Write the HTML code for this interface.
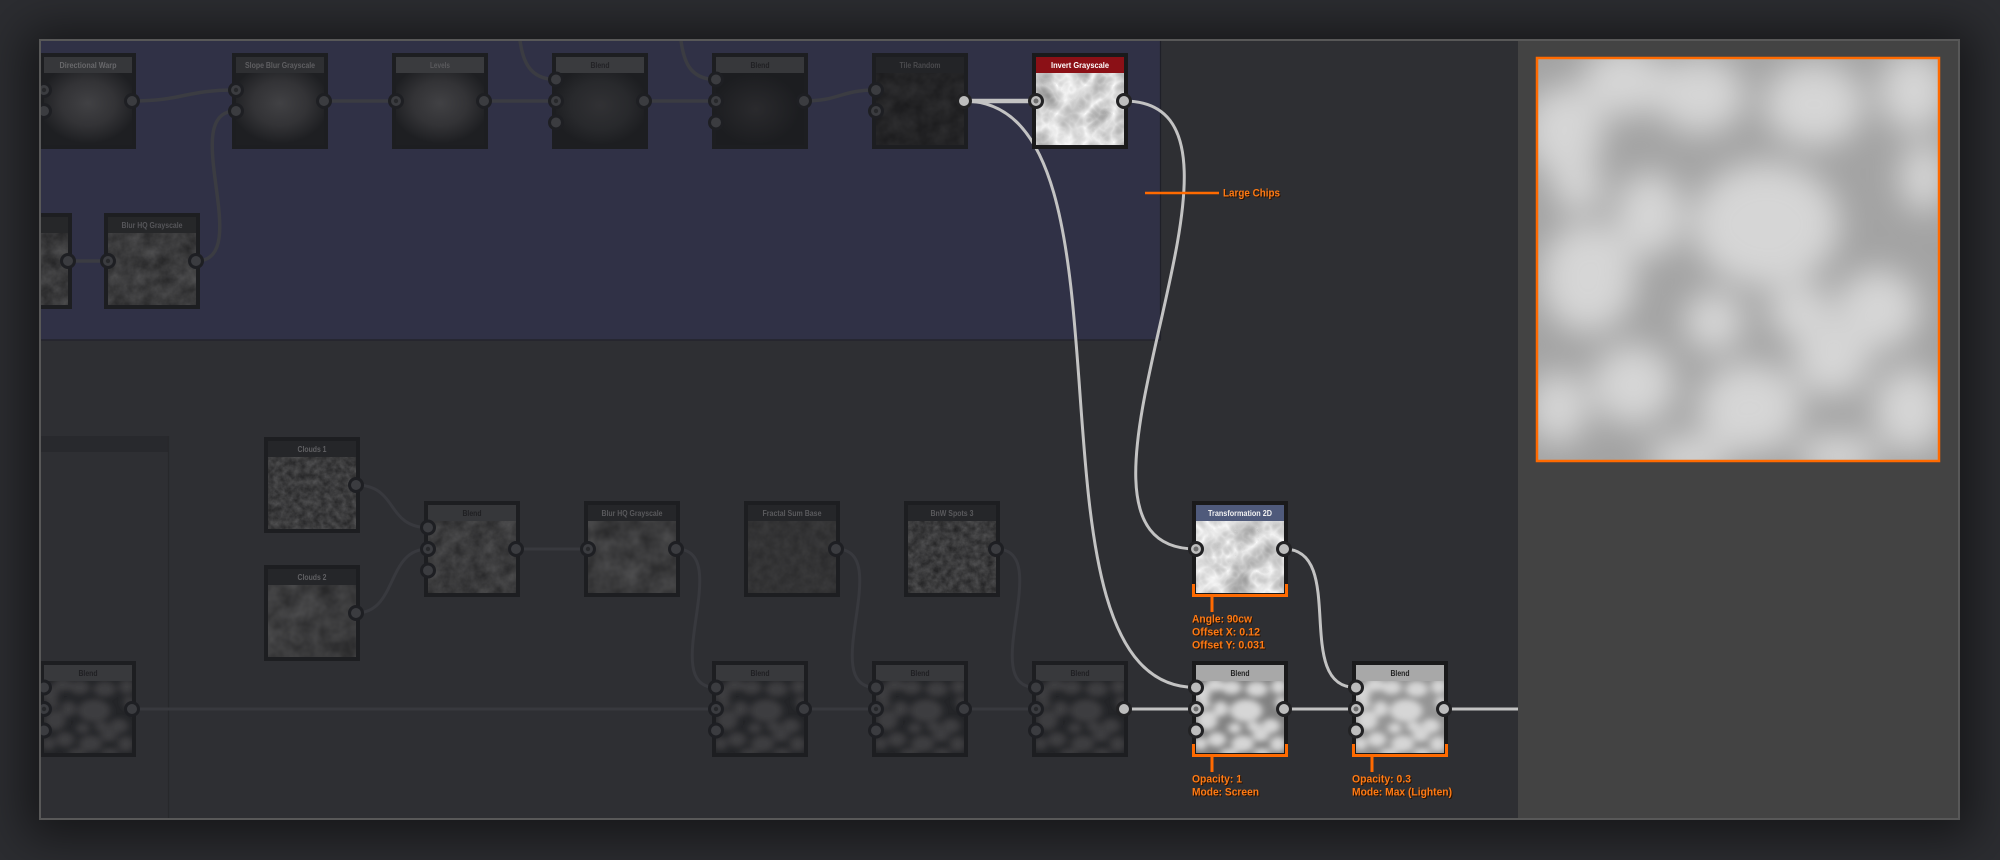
<!DOCTYPE html>
<html>
<head>
<meta charset="utf-8">
<style>
html,body{margin:0;padding:0;}
body{width:2000px;height:860px;overflow:hidden;background:#2c2d31;position:relative;}
#frame{position:absolute;left:39px;top:39px;width:1917px;height:777px;border:2px solid #585858;box-shadow:0 4px 45px 14px rgba(0,0,0,0.5);background:#2e2f33;}
svg text{font-family:"Liberation Sans",sans-serif;}
</style>
</head>
<body>
<div id="frame"></div>
<svg width="2000" height="860" viewBox="0 0 2000 860" style="position:absolute;left:0;top:0" xmlns="http://www.w3.org/2000/svg">
<defs>
  <clipPath id="canvasClip"><rect x="41" y="41" width="1477" height="777"/></clipPath>
  <filter id="blurC" x="-20%" y="-20%" width="140%" height="140%"><feGaussianBlur stdDeviation="16"/></filter>
  <filter id="nz" x="0" y="0" width="1" height="1" color-interpolation-filters="sRGB">
    <feTurbulence type="fractalNoise" baseFrequency="0.07" numOctaves="4" seed="2"/>
    <feColorMatrix type="matrix" values="0.2 0 0 0 0.13  0.2 0 0 0 0.13  0.2 0 0 0 0.135  0 0 0 0 1"/>
  </filter>
  <filter id="nzFine" x="0" y="0" width="1" height="1" color-interpolation-filters="sRGB">
    <feTurbulence type="fractalNoise" baseFrequency="0.15" numOctaves="4" seed="5"/>
    <feColorMatrix type="matrix" values="0.22 0 0 0 0.12  0.22 0 0 0 0.12  0.22 0 0 0 0.125  0 0 0 0 1"/>
  </filter>
  <filter id="nzSoft" x="0" y="0" width="1" height="1" color-interpolation-filters="sRGB">
    <feTurbulence type="fractalNoise" baseFrequency="0.05" numOctaves="3" seed="9"/>
    <feColorMatrix type="matrix" values="0.2 0 0 0 0.135  0.2 0 0 0 0.135  0.2 0 0 0 0.14  0 0 0 0 1"/>
  </filter>
  <filter id="nzFlat" x="0" y="0" width="1" height="1" color-interpolation-filters="sRGB">
    <feTurbulence type="fractalNoise" baseFrequency="0.1" numOctaves="3" seed="4"/>
    <feColorMatrix type="matrix" values="0.08 0 0 0 0.16  0.08 0 0 0 0.16  0.08 0 0 0 0.165  0 0 0 0 1"/>
  </filter>
  <filter id="nzTile" x="0" y="0" width="1" height="1" color-interpolation-filters="sRGB">
    <feTurbulence type="fractalNoise" baseFrequency="0.06" numOctaves="3" seed="11"/>
    <feColorMatrix type="matrix" values="0.1 0 0 0 0.09  0.1 0 0 0 0.09  0.1 0 0 0 0.097  0 0 0 0 1"/>
  </filter>
  <filter id="crumple" x="0" y="0" width="1" height="1" color-interpolation-filters="sRGB">
    <feTurbulence type="turbulence" baseFrequency="0.035" numOctaves="3" seed="7"/>
    <feColorMatrix type="matrix" values="-0.5 0 0 0 0.98  -0.5 0 0 0 0.98  -0.5 0 0 0 0.98  0 0 0 0 1"/>
  </filter>
  <filter id="crumple2" x="0" y="0" width="1" height="1" color-interpolation-filters="sRGB">
    <feTurbulence type="turbulence" baseFrequency="0.035" numOctaves="3" seed="21"/>
    <feColorMatrix type="matrix" values="-0.5 0 0 0 0.98  -0.5 0 0 0 0.98  -0.5 0 0 0 0.98  0 0 0 0 1"/>
  </filter>
  <radialGradient id="blobA" cx="0.5" cy="0.42" r="0.56">
    <stop offset="0" stop-color="#414144"/><stop offset="0.55" stop-color="#333336"/><stop offset="1" stop-color="#1e1f22"/>
  </radialGradient>
  <radialGradient id="blobB" cx="0.5" cy="0.45" r="0.55">
    <stop offset="0" stop-color="#313134"/><stop offset="0.6" stop-color="#28292c"/><stop offset="1" stop-color="#1d1e21"/>
  </radialGradient>
  <radialGradient id="blobC" cx="0.45" cy="0.5" r="0.5">
    <stop offset="0" stop-color="#2a2a2d"/><stop offset="1" stop-color="#1c1d20"/>
  </radialGradient>
  <g id="cells" filter="url(#blurC)">
    <ellipse cx="26" cy="72" rx="40" ry="45"/>
    <ellipse cx="86" cy="22" rx="42" ry="35"/>
    <ellipse cx="162" cy="36" rx="45" ry="38"/>
    <ellipse cx="276" cy="45" rx="50" ry="42"/>
    <ellipse cx="376" cy="32" rx="35" ry="40"/>
    <ellipse cx="112" cy="155" rx="34" ry="42"/>
    <ellipse cx="228" cy="165" rx="74" ry="62"/>
    <ellipse cx="50" cy="218" rx="48" ry="55"/>
    <ellipse cx="340" cy="250" rx="42" ry="40"/>
    <ellipse cx="386" cy="118" rx="24" ry="35"/>
    <ellipse cx="20" cy="348" rx="30" ry="36"/>
    <ellipse cx="95" cy="325" rx="42" ry="40"/>
    <ellipse cx="212" cy="348" rx="52" ry="45"/>
    <ellipse cx="294" cy="300" rx="38" ry="36"/>
    <ellipse cx="372" cy="350" rx="36" ry="42"/>
    <ellipse cx="176" cy="262" rx="30" ry="30"/>
    <ellipse cx="262" cy="252" rx="32" ry="28"/>
    <ellipse cx="150" cy="398" rx="40" ry="22"/>
    <ellipse cx="300" cy="396" rx="40" ry="22"/>
    <ellipse cx="40" cy="128" rx="26" ry="24"/>
  </g>
</defs>

<g clip-path="url(#canvasClip)">
  <rect x="41" y="41" width="1477" height="777" fill="#2e2f33"/>
  <rect x="41" y="41" width="1120" height="299" fill="#303146"/>
  <line x1="1160.5" y1="41" x2="1160.5" y2="340" stroke="#1f2028" stroke-width="1.2"/>
  <line x1="41" y1="340" x2="1161" y2="340" stroke="#23242c" stroke-width="1.5"/>
  <rect x="41" y="436" width="128" height="16" fill="#28292d"/>
  <line x1="168.5" y1="436" x2="168.5" y2="818" stroke="#27282b" stroke-width="1.2"/>

  <g fill="none" stroke="#3b3c42" stroke-width="3.5">
    <path d="M132,101 C184,101 184,90 236,90"/>
    <path d="M324,101 L396,101"/>
    <path d="M484,101 L556,101"/>
    <path d="M644,101 L716,101"/>
    <path d="M804,101 C840,101 840,90 876,90"/>
    <path d="M519,30 C521,62 530,79.5 556,79.5"/>
    <path d="M680,30 C682,62 690,79.5 716,79.5"/>
    <path d="M68,261 L108,261"/>
    <path d="M196,261 C256,261 176,111 236,111"/>
  </g>
  <g fill="none" stroke="#38393e" stroke-width="3">
    <path d="M356,485 C398,485 386,527.5 428,527.5"/>
    <path d="M356,613 C398,613 386,549 428,549"/>
    <path d="M516,549 L588,549"/>
    <path d="M676,549 C736,549 656,687.5 716,687.5"/>
    <path d="M836,549 C896,549 816,687.5 876,687.5"/>
    <path d="M996,549 C1056,549 976,687.5 1036,687.5"/>
    <path d="M132,709 L716,709"/>
    <path d="M804,709 L876,709"/>
    <path d="M964,709 L1036,709"/>
  </g>
  <g fill="none" stroke="#c3c3c3" stroke-width="3">
    <path d="M964,101 L1036,101" stroke-width="4.5"/>
    <path d="M964,101 C1154,101 1006,687.5 1196,687.5"/>
    <path d="M1124,101 C1298,101 1022,549 1196,549"/>
    <path d="M1284,549 C1348,549 1292,687.5 1356,687.5"/>
    <path d="M1124,709 L1196,709"/>
    <path d="M1284,709 L1356,709"/>
    <path d="M1444,709 L1522,709"/>
  </g>

  <!-- TOP ROW -->
  <rect x="40" y="53" width="96" height="96" fill="#1d1e21"/>
  <rect x="44" y="57" width="88" height="16" fill="#36373a"/>
  <rect x="44" y="73" width="88" height="72" fill="url(#blobA)"/>
  <text x="88" y="68" font-size="8" font-weight="bold" fill="#68686b" text-anchor="middle" textLength="57" lengthAdjust="spacingAndGlyphs">Directional Warp</text>
  <rect x="232" y="53" width="96" height="96" fill="#1d1e21"/>
  <rect x="236" y="57" width="88" height="16" fill="#2e2f32"/>
  <rect x="236" y="73" width="88" height="72" fill="url(#blobA)"/>
  <text x="280" y="68" font-size="8" font-weight="bold" fill="#5f5f62" text-anchor="middle" textLength="70" lengthAdjust="spacingAndGlyphs">Slope Blur Grayscale</text>
  <rect x="392" y="53" width="96" height="96" fill="#1d1e21"/>
  <rect x="396" y="57" width="88" height="16" fill="#3a3b3e"/>
  <rect x="396" y="73" width="88" height="72" fill="url(#blobA)"/>
  <text x="440" y="68" font-size="8" font-weight="bold" fill="#5a5a5d" text-anchor="middle" textLength="20" lengthAdjust="spacingAndGlyphs">Levels</text>
  <rect x="552" y="53" width="96" height="96" fill="#1d1e21"/>
  <rect x="556" y="57" width="88" height="16" fill="#3a3b3e"/>
  <rect x="556" y="73" width="88" height="72" fill="url(#blobB)"/>
  <text x="600" y="68" font-size="8" font-weight="bold" fill="#222225" text-anchor="middle" textLength="19" lengthAdjust="spacingAndGlyphs">Blend</text>
  <rect x="712" y="53" width="96" height="96" fill="#1d1e21"/>
  <rect x="716" y="57" width="88" height="16" fill="#37383b"/>
  <rect x="716" y="73" width="88" height="72" fill="url(#blobC)"/>
  <text x="760" y="68" font-size="8" font-weight="bold" fill="#202023" text-anchor="middle" textLength="19" lengthAdjust="spacingAndGlyphs">Blend</text>
  <rect x="872" y="53" width="96" height="96" fill="#1d1e21"/>
  <rect x="876" y="57" width="88" height="16" fill="#232427"/>
  <rect x="876" y="73" width="88" height="72" fill="#242528" filter="url(#nzTile)"/>
  <text x="920" y="68" font-size="8" font-weight="bold" fill="#4a4a4d" text-anchor="middle" textLength="41" lengthAdjust="spacingAndGlyphs">Tile Random</text>
  <rect x="1032" y="53" width="96" height="96" fill="#1a1a1b"/>
  <rect x="1036" y="57" width="88" height="16" fill="#8b1016"/>
  <rect x="1036" y="73" width="88" height="72" fill="#e0e0e0" filter="url(#crumple)"/>
  <text x="1080" y="68" font-size="8" font-weight="bold" fill="#ffffff" text-anchor="middle" textLength="58" lengthAdjust="spacingAndGlyphs">Invert Grayscale</text>

  <!-- ROW 2 -->
  <rect x="-24" y="213" width="96" height="96" fill="#1d1e21"/>
  <rect x="-20" y="217" width="88" height="16" fill="#262729"/>
  <rect x="-20" y="233" width="88" height="72" fill="#3a3a3c" filter="url(#nz)"/>
  <rect x="104" y="213" width="96" height="96" fill="#1d1e21"/>
  <rect x="108" y="217" width="88" height="16" fill="#262729"/>
  <rect x="108" y="233" width="88" height="72" fill="#3a3a3c" filter="url(#nz)"/>
  <text x="152" y="228" font-size="8" font-weight="bold" fill="#56565a" text-anchor="middle" textLength="61" lengthAdjust="spacingAndGlyphs">Blur HQ Grayscale</text>

  <!-- BOTTOM -->
  <rect x="264" y="437" width="96" height="96" fill="#1d1e21"/>
  <rect x="268" y="441" width="88" height="16" fill="#252629"/>
  <rect x="268" y="457" width="88" height="72" fill="#3a3a3c" filter="url(#nzFine)"/>
  <text x="312" y="452" font-size="8" font-weight="bold" fill="#606063" text-anchor="middle" textLength="29" lengthAdjust="spacingAndGlyphs">Clouds 1</text>
  <rect x="264" y="565" width="96" height="96" fill="#1d1e21"/>
  <rect x="268" y="569" width="88" height="16" fill="#252629"/>
  <rect x="268" y="585" width="88" height="72" fill="#3a3a3c" filter="url(#nzSoft)"/>
  <text x="312" y="580" font-size="8" font-weight="bold" fill="#606063" text-anchor="middle" textLength="29" lengthAdjust="spacingAndGlyphs">Clouds 2</text>
  <rect x="424" y="501" width="96" height="96" fill="#1d1e21"/>
  <rect x="428" y="505" width="88" height="16" fill="#36373a"/>
  <rect x="428" y="521" width="88" height="72" fill="#3a3a3c" filter="url(#nz)"/>
  <text x="472" y="516" font-size="8" font-weight="bold" fill="#1f1f22" text-anchor="middle" textLength="19" lengthAdjust="spacingAndGlyphs">Blend</text>
  <rect x="584" y="501" width="96" height="96" fill="#1d1e21"/>
  <rect x="588" y="505" width="88" height="16" fill="#252629"/>
  <rect x="588" y="521" width="88" height="72" fill="#3a3a3c" filter="url(#nzSoft)"/>
  <text x="632" y="516" font-size="8" font-weight="bold" fill="#59595c" text-anchor="middle" textLength="61" lengthAdjust="spacingAndGlyphs">Blur HQ Grayscale</text>
  <rect x="744" y="501" width="96" height="96" fill="#1d1e21"/>
  <rect x="748" y="505" width="88" height="16" fill="#252629"/>
  <rect x="748" y="521" width="88" height="72" fill="#333336" filter="url(#nzFlat)"/>
  <text x="792" y="516" font-size="8" font-weight="bold" fill="#5a5a5d" text-anchor="middle" textLength="59" lengthAdjust="spacingAndGlyphs">Fractal Sum Base</text>
  <rect x="904" y="501" width="96" height="96" fill="#1d1e21"/>
  <rect x="908" y="505" width="88" height="16" fill="#252629"/>
  <rect x="908" y="521" width="88" height="72" fill="#3a3a3c" filter="url(#nzFine)"/>
  <text x="952" y="516" font-size="8" font-weight="bold" fill="#5a5a5d" text-anchor="middle" textLength="43" lengthAdjust="spacingAndGlyphs">BnW Spots 3</text>
  <rect x="1192" y="501" width="96" height="96" fill="#1a1a1b"/>
  <rect x="1196" y="505" width="88" height="16" fill="#4f5a7b"/>
  <rect x="1196" y="521" width="88" height="72" fill="#e0e0e0" filter="url(#crumple2)"/>
  <text x="1240" y="516" font-size="8" font-weight="bold" fill="#f2f2f2" text-anchor="middle" textLength="64" lengthAdjust="spacingAndGlyphs">Transformation 2D</text>

  <rect x="40" y="661" width="96" height="96" fill="#1d1e21"/>
  <rect x="44" y="665" width="88" height="16" fill="#38393c"/>
  <svg x="44" y="681" width="88" height="72" viewBox="0 0 400 400" preserveAspectRatio="none"><rect width="400" height="400" fill="#242528"/><use href="#cells" fill="#3d3d40"/></svg>
  <text x="88" y="676" font-size="8" font-weight="bold" fill="#1f1f22" text-anchor="middle" textLength="19" lengthAdjust="spacingAndGlyphs">Blend</text>
  <rect x="712" y="661" width="96" height="96" fill="#1d1e21"/>
  <rect x="716" y="665" width="88" height="16" fill="#38393c"/>
  <svg x="716" y="681" width="88" height="72" viewBox="0 0 400 400" preserveAspectRatio="none"><rect width="400" height="400" fill="#242528"/><use href="#cells" fill="#3d3d40"/></svg>
  <text x="760" y="676" font-size="8" font-weight="bold" fill="#1f1f22" text-anchor="middle" textLength="19" lengthAdjust="spacingAndGlyphs">Blend</text>
  <rect x="872" y="661" width="96" height="96" fill="#1d1e21"/>
  <rect x="876" y="665" width="88" height="16" fill="#38393c"/>
  <svg x="876" y="681" width="88" height="72" viewBox="0 0 400 400" preserveAspectRatio="none"><rect width="400" height="400" fill="#242528"/><use href="#cells" fill="#3d3d40"/></svg>
  <text x="920" y="676" font-size="8" font-weight="bold" fill="#1f1f22" text-anchor="middle" textLength="19" lengthAdjust="spacingAndGlyphs">Blend</text>
  <rect x="1032" y="661" width="96" height="96" fill="#1d1e21"/>
  <rect x="1036" y="665" width="88" height="16" fill="#38393c"/>
  <svg x="1036" y="681" width="88" height="72" viewBox="0 0 400 400" preserveAspectRatio="none"><rect width="400" height="400" fill="#242528"/><use href="#cells" fill="#3e3e41"/></svg>
  <text x="1080" y="676" font-size="8" font-weight="bold" fill="#1f1f22" text-anchor="middle" textLength="19" lengthAdjust="spacingAndGlyphs">Blend</text>
  <rect x="1192" y="661" width="96" height="96" fill="#1a1a1b"/>
  <rect x="1196" y="665" width="88" height="16" fill="#a8a8a8"/>
  <svg x="1196" y="681" width="88" height="72" viewBox="0 0 400 400" preserveAspectRatio="none"><rect width="400" height="400" fill="#828282"/><use href="#cells" fill="#d6d6d6"/></svg>
  <text x="1240" y="676" font-size="8" font-weight="bold" fill="#222222" text-anchor="middle" textLength="19" lengthAdjust="spacingAndGlyphs">Blend</text>
  <rect x="1352" y="661" width="96" height="96" fill="#1a1a1b"/>
  <rect x="1356" y="665" width="88" height="16" fill="#a8a8a8"/>
  <svg x="1356" y="681" width="88" height="72" viewBox="0 0 400 400" preserveAspectRatio="none"><rect width="400" height="400" fill="#959595"/><use href="#cells" fill="#d6d6d6"/></svg>
  <text x="1400" y="676" font-size="8" font-weight="bold" fill="#222222" text-anchor="middle" textLength="19" lengthAdjust="spacingAndGlyphs">Blend</text>

  <!-- PORTS -->
  <g fill="#3b3c40" stroke="#1e1f23" stroke-width="3">
    <circle cx="44" cy="90" r="6.5"/><circle cx="44" cy="111" r="6.5"/><circle cx="132" cy="101" r="6.5"/>
    <circle cx="236" cy="90" r="6.5"/><circle cx="236" cy="111" r="6.5"/><circle cx="324" cy="101" r="6.5"/>
    <circle cx="396" cy="101" r="6.5"/><circle cx="484" cy="101" r="6.5"/>
    <circle cx="556" cy="79.5" r="6.5"/><circle cx="556" cy="101" r="6.5"/><circle cx="556" cy="122.5" r="6.5"/><circle cx="644" cy="101" r="6.5"/>
    <circle cx="716" cy="79.5" r="6.5"/><circle cx="716" cy="101" r="6.5"/><circle cx="716" cy="122.5" r="6.5"/><circle cx="804" cy="101" r="6.5"/>
    <circle cx="876" cy="90" r="6.5"/><circle cx="876" cy="111" r="6.5"/>
    <circle cx="68" cy="261" r="6.5"/><circle cx="108" cy="261" r="6.5"/><circle cx="196" cy="261" r="6.5"/>
    <circle cx="356" cy="485" r="6.5"/><circle cx="356" cy="613" r="6.5"/>
    <circle cx="428" cy="527.5" r="6.5"/><circle cx="428" cy="549" r="6.5"/><circle cx="428" cy="570.5" r="6.5"/><circle cx="516" cy="549" r="6.5"/>
    <circle cx="588" cy="549" r="6.5"/><circle cx="676" cy="549" r="6.5"/>
    <circle cx="836" cy="549" r="6.5"/><circle cx="996" cy="549" r="6.5"/>
    <circle cx="44" cy="687.5" r="6.5"/><circle cx="44" cy="709" r="6.5"/><circle cx="44" cy="730.5" r="6.5"/><circle cx="132" cy="709" r="6.5"/>
    <circle cx="716" cy="687.5" r="6.5"/><circle cx="716" cy="709" r="6.5"/><circle cx="716" cy="730.5" r="6.5"/><circle cx="804" cy="709" r="6.5"/>
    <circle cx="876" cy="687.5" r="6.5"/><circle cx="876" cy="709" r="6.5"/><circle cx="876" cy="730.5" r="6.5"/><circle cx="964" cy="709" r="6.5"/>
    <circle cx="1036" cy="687.5" r="6.5"/><circle cx="1036" cy="709" r="6.5"/><circle cx="1036" cy="730.5" r="6.5"/>
  </g>
  <g fill="#27282b">
    <circle cx="44" cy="90" r="2.2"/><circle cx="236" cy="90" r="2.2"/><circle cx="396" cy="101" r="2.2"/>
    <circle cx="556" cy="101" r="2.2"/><circle cx="716" cy="101" r="2.2"/><circle cx="876" cy="111" r="2.2"/>
    <circle cx="108" cy="261" r="2.2"/><circle cx="428" cy="549" r="2.2"/><circle cx="588" cy="549" r="2.2"/>
    <circle cx="44" cy="709" r="2.2"/><circle cx="716" cy="709" r="2.2"/><circle cx="876" cy="709" r="2.2"/><circle cx="1036" cy="709" r="2.2"/>
  </g>
  <g fill="#bdbdbd" stroke="#222224" stroke-width="3">
    <circle cx="964" cy="101" r="6.5"/>
    <circle cx="1036" cy="101" r="6.5"/><circle cx="1124" cy="101" r="6.5"/>
    <circle cx="1196" cy="549" r="6.5"/><circle cx="1284" cy="549" r="6.5"/>
    <circle cx="1124" cy="709" r="6.5"/>
    <circle cx="1196" cy="687.5" r="6.5"/><circle cx="1196" cy="709" r="6.5"/><circle cx="1196" cy="730.5" r="6.5"/><circle cx="1284" cy="709" r="6.5"/>
    <circle cx="1356" cy="687.5" r="6.5"/><circle cx="1356" cy="709" r="6.5"/><circle cx="1356" cy="730.5" r="6.5"/><circle cx="1444" cy="709" r="6.5"/>
  </g>
  <g fill="#6e6e6e">
    <circle cx="1036" cy="101" r="2.5"/><circle cx="1196" cy="549" r="2.5"/><circle cx="1196" cy="709" r="2.5"/><circle cx="1356" cy="709" r="2.5"/>
  </g>

  <!-- ANNOTATIONS -->
  <g fill="none" stroke="#ff6a00" stroke-width="3">
    <path d="M1193.5,584 V595.5 H1286.5 V584"/>
    <path d="M1212,597 V612"/>
    <path d="M1193.5,744 V755.5 H1286.5 V744"/>
    <path d="M1212,757 V772"/>
    <path d="M1353.5,744 V755.5 H1446.5 V744"/>
    <path d="M1372,757 V772"/>
    <path d="M1145,193 H1219" stroke-width="2.5"/>
  </g>
  <g font-size="11" font-weight="bold" fill="#2a1200" transform="translate(1,1)">
    <text x="1223" y="196.5" textLength="57" lengthAdjust="spacingAndGlyphs">Large Chips</text>
    <text x="1192" y="622.7" textLength="60" lengthAdjust="spacingAndGlyphs">Angle: 90cw</text>
    <text x="1192" y="635.7" textLength="68" lengthAdjust="spacingAndGlyphs">Offset X: 0.12</text>
    <text x="1192" y="648.7" textLength="73" lengthAdjust="spacingAndGlyphs">Offset Y: 0.031</text>
    <text x="1192" y="782.5" textLength="50" lengthAdjust="spacingAndGlyphs">Opacity: 1</text>
    <text x="1192" y="795.5" textLength="67" lengthAdjust="spacingAndGlyphs">Mode: Screen</text>
    <text x="1352" y="782.5" textLength="59" lengthAdjust="spacingAndGlyphs">Opacity: 0.3</text>
    <text x="1352" y="795.5" textLength="100" lengthAdjust="spacingAndGlyphs">Mode: Max (Lighten)</text>
  </g>
  <g font-size="11" font-weight="bold" fill="#ff7a14">
    <text x="1223" y="196.5" textLength="57" lengthAdjust="spacingAndGlyphs">Large Chips</text>
    <text x="1192" y="622.7" textLength="60" lengthAdjust="spacingAndGlyphs">Angle: 90cw</text>
    <text x="1192" y="635.7" textLength="68" lengthAdjust="spacingAndGlyphs">Offset X: 0.12</text>
    <text x="1192" y="648.7" textLength="73" lengthAdjust="spacingAndGlyphs">Offset Y: 0.031</text>
    <text x="1192" y="782.5" textLength="50" lengthAdjust="spacingAndGlyphs">Opacity: 1</text>
    <text x="1192" y="795.5" textLength="67" lengthAdjust="spacingAndGlyphs">Mode: Screen</text>
    <text x="1352" y="782.5" textLength="59" lengthAdjust="spacingAndGlyphs">Opacity: 0.3</text>
    <text x="1352" y="795.5" textLength="100" lengthAdjust="spacingAndGlyphs">Mode: Max (Lighten)</text>
  </g>
</g>

<!-- RIGHT PANEL -->
<rect x="1518" y="41" width="440" height="777" fill="#434343"/>
<svg x="1538" y="59" width="400" height="401" viewBox="0 0 400 400" preserveAspectRatio="none">
  <rect width="400" height="400" fill="#a3a3a3"/>
  <use href="#cells" fill="#d6d6d6"/>
</svg>
<rect x="1537" y="58" width="402" height="403" fill="none" stroke="#ff6a00" stroke-width="2.5"/>
</svg>
</body>
</html>
